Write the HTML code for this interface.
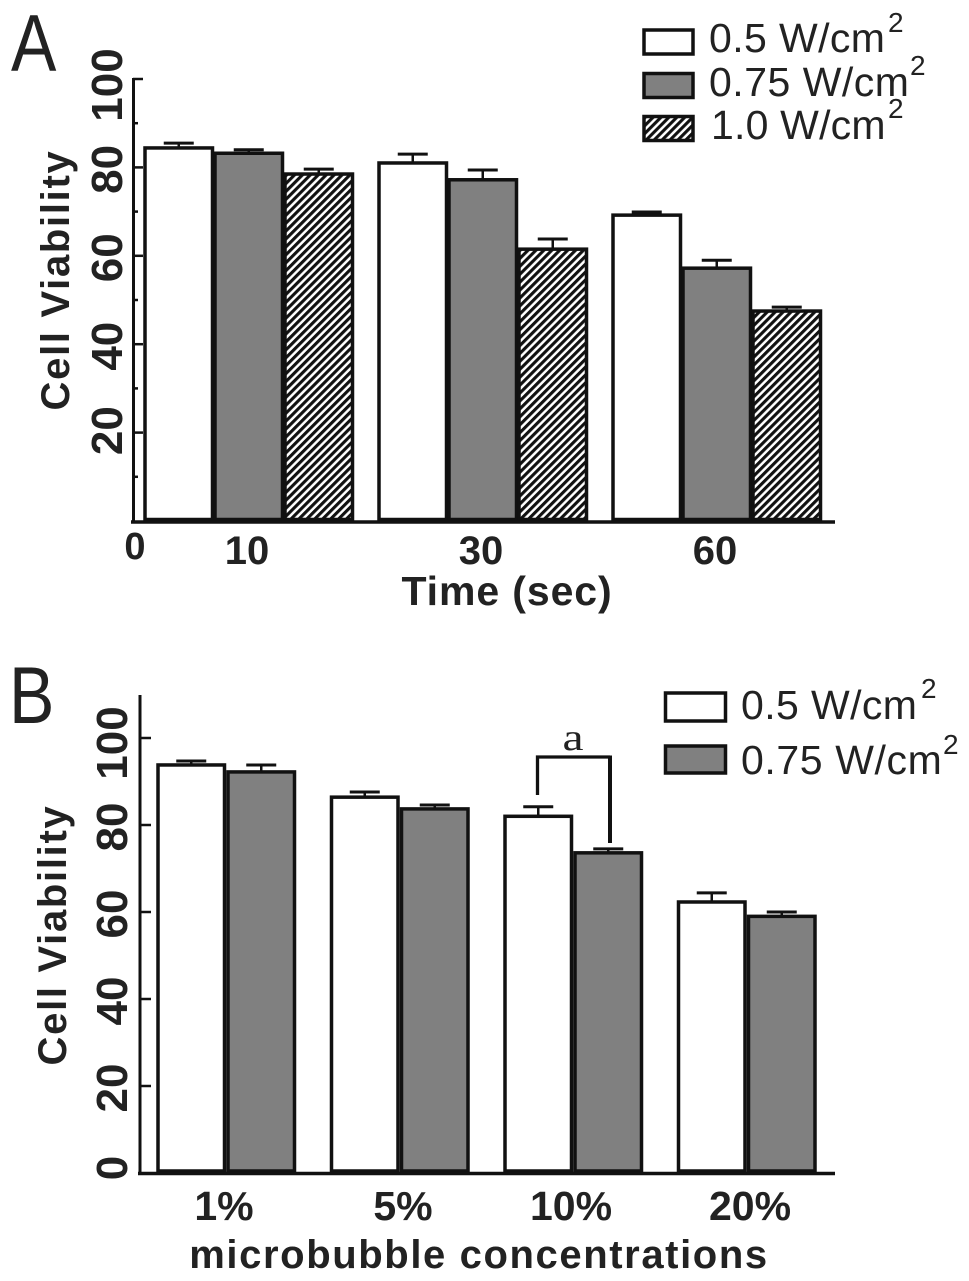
<!DOCTYPE html>
<html lang="en">
<head>
<meta charset="utf-8">
<title>Cell viability bar charts</title>
<style>
html,body{margin:0;padding:0;background:#fff;}
svg{display:block;}
text{font-family:"Liberation Sans",sans-serif;fill:#222;}
.bold{font-weight:bold;}
</style>
</head>
<body>
<svg id="fig" width="969" height="1281" viewBox="0 0 969 1281" xmlns="http://www.w3.org/2000/svg">
<defs>
<pattern id="hatch" width="5.6" height="5.6" patternUnits="userSpaceOnUse" patternTransform="rotate(-45)">
<rect width="5.6" height="5.6" fill="#fff"/>
<rect width="5.6" height="3.1" fill="#111"/>
</pattern>
</defs>
<rect width="969" height="1281" fill="#fff"/>
</svg>
<script>
var timeCategories = ['10', '30', '60'];
var timeSeriesLow = [84.4, 81, 69.2];
var timeSeriesMid = [83.2, 77.2, 57.2];
var timeSeriesHigh = [78.5, 61.5, 47.5];
var timeErrLow = [1.1, 2.0, 0.7];
var timeErrMid = [0.8, 2.2, 1.8];
var timeErrHigh = [1.1, 2.3, 0.9];
var timeTicks = [20, 40, 60, 80, 100];
var timeMinorTicks = [10, 30, 50, 70, 90];

var concCategories = ['1%', '5%', '10%', '20%'];
var concSeriesLow = [93.8, 86.4, 82, 62.3];
var concSeriesMid = [92.2, 83.7, 73.6, 59];
var concErrLow = [0.9, 1.2, 2.2, 2.1];
var concErrMid = [1.6, 0.9, 0.9, 1.0];
var concTicks = [0, 20, 40, 60, 80, 100];

var svg = document.getElementById('fig');
var NS = 'http://www.w3.org/2000/svg';
var INK = '#111';

function make(tag, attrs, name) {
  var el = document.createElementNS(NS, tag);
  for (var k in attrs) el.setAttribute(k, attrs[k]);
  
  
  svg.appendChild(el);
  return el;
}
function line(x1, y1, x2, y2, w, name) {
  return make('line', {x1: x1, y1: y1, x2: x2, y2: y2, stroke: INK, 'stroke-width': w}, name);
}
function label(str, x, y, size, opts, name) {
  opts = opts || {};
  var a = {x: x, y: y, 'font-size': size};
  if (opts.anchor) a['text-anchor'] = opts.anchor;
  if (opts.bold) a['class'] = 'bold';
  if (opts.spacing) a['letter-spacing'] = opts.spacing;
  if (opts.transform) a['transform'] = opts.transform;
  if (opts.family) a['style'] = 'font-family:' + opts.family;
  var el = make('text', a, name);
  el.textContent = str;
  return el;
}
function rotatedLabel(str, x, cy, size, spacing, name) {
  return label(str, 0, 0, size, {bold: true, anchor: 'middle', spacing: spacing,
    transform: 'translate(' + x + ' ' + cy + ') rotate(-90)'}, name);
}

/* Panel A axis functions */
function yA(v) { return 521 - v * 4.42; }
function xA(g, s) { return 145 + g * 234 + s * 70; }
/* Panel B axis functions */
function yB(v) { return 1173 - v * 4.35; }
function xB(g, s) { return 158 + g * 173.5 + s * 70; }

function drawBar(x, w, yTop, yBase, err, yFn, value, fill, name) {
  var top = yFn(value + err);
  line(x + w / 2, yTop, x + w / 2, top, 2.5, name + '-error-stem');
  line(x + w / 2 - 15, top, x + w / 2 + 15, top, 3, name + '-error-cap');
  make('rect', {x: x, y: yTop, width: w, height: yBase - yTop, fill: fill, stroke: INK, 'stroke-width': 3.5}, name);
}

/* ---------- Panel A ---------- */
label('A', 0, 0, 81, {transform: 'translate(11 71) scale(0.84 1)'}, 'panel-a-label');
var seriesA = [
  {vals: timeSeriesLow, errs: timeErrLow, fill: '#fff', key: 'low'},
  {vals: timeSeriesMid, errs: timeErrMid, fill: '#808080', key: 'mid'},
  {vals: timeSeriesHigh, errs: timeErrHigh, fill: 'url(#hatch)', key: 'high'}
];
seriesA.forEach(function (s, si) {
  s.vals.forEach(function (v, g) {
    drawBar(xA(g, si), 67.5, yA(v), yA(0) - 1.5, s.errs[g], yA, v, s.fill, 'bar-' + s.key + '-' + timeCategories[g] + 's');
  });
});
line(133.5, yA(100) - 1, 133.5, yA(0) + 2, 3, 'y-axis-a');
line(131, yA(0) + 1, 835, yA(0) + 1, 3.5, 'x-axis-a');
timeTicks.forEach(function (t) {
  line(133, yA(t), 143, yA(t), 2.5, 'y-tick-a-' + t);
  var shift = t === 100 ? 6 : (t === 20 ? -2 : 2);
  rotatedLabel(String(t), 122, yA(t) + shift, 44, 0, 'y-tick-label-a-' + t);
});
timeMinorTicks.forEach(function (t) {
  line(133, yA(t), 138, yA(t), 2.5, 'y-minor-tick-a-' + t);
});
label('0', 135, 559, 38, {bold: true, anchor: 'middle'}, 'x-origin-label-a');
timeCategories.forEach(function (c, g) {
  label(c, xA(g, 1) + 32, 564, 40, {bold: true, anchor: 'middle'}, 'x-tick-label-a-' + c);
});
label('Time (sec)', 507, 605, 41, {bold: true, anchor: 'middle', spacing: '0.9'}, 'x-axis-title-a');
rotatedLabel('Cell Viability', 69, 280, 40, 1.7, 'y-axis-title-a');

/* legend A */
make('rect', {x: 644, y: 30, width: 49, height: 24, fill: '#fff', stroke: INK, 'stroke-width': 3.5}, 'legend-swatch-a-low');
make('rect', {x: 644, y: 73.5, width: 49, height: 24, fill: '#808080', stroke: INK, 'stroke-width': 3.5}, 'legend-swatch-a-mid');
make('rect', {x: 644, y: 116.5, width: 49, height: 24, fill: 'url(#hatch)', stroke: INK, 'stroke-width': 3.5}, 'legend-swatch-a-high');
label('0.5 W/cm', 709, 52, 41, {spacing: '0.4'}, 'legend-label-a-low');
label('2', 888, 32, 28, {}, 'legend-sup-a-low');
label('0.75 W/cm', 709, 96, 41, {spacing: '0.5'}, 'legend-label-a-mid');
label('2', 910, 75, 28, {}, 'legend-sup-a-mid');
label('1.0 W/cm', 711, 139, 41, {spacing: '0.2'}, 'legend-label-a-high');
label('2', 888, 118, 28, {}, 'legend-sup-a-high');

/* ---------- Panel B ---------- */
label('B', 0, 0, 81, {transform: 'translate(9 723) scale(0.84 1)'}, 'panel-b-label');
var seriesB = [
  {vals: concSeriesLow, errs: concErrLow, fill: '#fff', key: 'low'},
  {vals: concSeriesMid, errs: concErrMid, fill: '#808080', key: 'mid'}
];
seriesB.forEach(function (s, si) {
  s.vals.forEach(function (v, g) {
    drawBar(xB(g, si), 66.5, yB(v), yB(0) - 2, s.errs[g], yB, v, s.fill, 'bar-' + s.key + '-' + concCategories[g].replace('%', 'pct'));
  });
});
line(140, 695, 140, yB(0) + 2, 3, 'y-axis-b');
line(138, yB(0) + 0.5, 835, yB(0) + 0.5, 3.5, 'x-axis-b');
concTicks.forEach(function (t) {
  if (t > 0) line(140, yB(t), 151, yB(t), 2.5, 'y-tick-b-' + t);
  var shift = t === 0 ? -5 : (t === 100 ? 5 : 2);
  rotatedLabel(String(t), 127, yB(t) + shift, 44, 0, 'y-tick-label-b-' + t);
});
concCategories.forEach(function (c, g) {
  label(c, xB(g, 1) - 4 + (g % 2 ? 5.5 : 0), 1220, 41, {bold: true, anchor: 'middle'}, 'x-tick-label-b-' + c.replace('%', 'pct'));
});
label('microbubble concentrations', 479, 1268, 40, {bold: true, anchor: 'middle', spacing: '1.6'}, 'x-axis-title-b');
rotatedLabel('Cell Viability', 66, 935, 40, 1.7, 'y-axis-title-b');

/* significance bracket */
make('path', {d: 'M537.5 795 V757 H610', fill: 'none', stroke: INK, 'stroke-width': 3.3}, 'significance-bracket-left');
line(610, 755.5, 610, 843, 4, 'significance-bracket-right');
label('a', 0, 0, 38, {anchor: 'middle', family: '"Liberation Serif",serif', transform: 'translate(573 750) scale(1.25 1)'}, 'significance-label');

/* legend B */
make('rect', {x: 665.5, y: 693, width: 60, height: 28, fill: '#fff', stroke: INK, 'stroke-width': 3.5}, 'legend-swatch-b-low');
make('rect', {x: 665.5, y: 746, width: 60, height: 27, fill: '#808080', stroke: INK, 'stroke-width': 3.5}, 'legend-swatch-b-mid');
label('0.5 W/cm', 741, 719, 41, {spacing: '0.4'}, 'legend-label-b-low');
label('2', 921, 698, 28, {}, 'legend-sup-b-low');
label('0.75 W/cm', 741, 774, 41, {spacing: '0.6'}, 'legend-label-b-mid');
label('2', 943, 754, 28, {}, 'legend-sup-b-mid');
</script>
</body>
</html>
